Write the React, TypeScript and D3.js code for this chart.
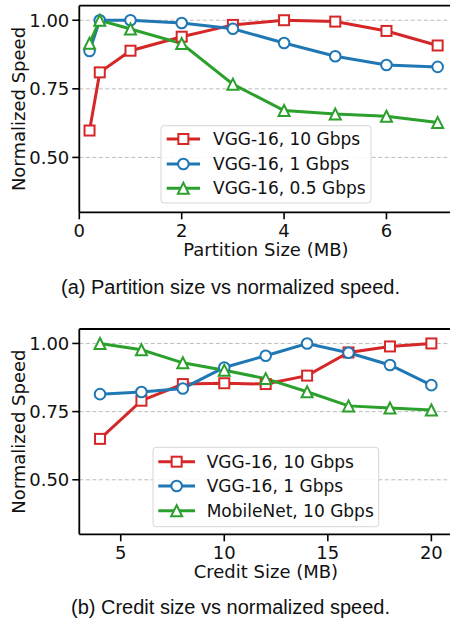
import React from "react";
import * as d3 from "d3";

// ---- Data ----
const partitionSizes = [0.2, 0.4, 1, 2, 3, 4, 5, 6, 7];
const partVgg10 = [0.598, 0.81, 0.889, 0.94, 0.983, 1.0, 0.995, 0.961, 0.908];
const partVgg1 = [0.888, 1.0, 1.0, 0.99, 0.969, 0.917, 0.869, 0.837, 0.83];
const partVgg05 = [0.916, 1.0, 0.968, 0.915, 0.767, 0.671, 0.658, 0.65, 0.627];

const creditSizes = [4, 6, 8, 10, 12, 14, 16, 18, 20];
const credVgg10 = [0.65, 0.79, 0.851, 0.854, 0.851, 0.882, 0.967, 0.989, 1.0];
const credVgg1 = [0.814, 0.822, 0.835, 0.912, 0.955, 1.0, 0.966, 0.921, 0.847];
const credMobile = [1.0, 0.977, 0.929, 0.902, 0.871, 0.823, 0.771, 0.763, 0.756];

const yTicks = [0.5, 0.75, 1.0];
const xTicksA = [0, 2, 4, 6];
const xTicksB = [5, 10, 15, 20];

const seriesA = ["VGG-16, 10 Gbps", "VGG-16, 1 Gbps", "VGG-16, 0.5 Gbps"];
const seriesB = ["VGG-16, 10 Gbps", "VGG-16, 1 Gbps", "MobileNet, 10 Gbps"];
const colors = ["#d62728", "#1f77b4", "#2ca02c"];
const markers = ["square", "circle", "triangle"];

const FONT = "'DejaVu Sans', sans-serif";

function Marker({ type, x, y, color }: { type: string; x: number; y: number; color: string }) {
  if (type === "square")
    return <rect x={x - 5} y={y - 5} width={10} height={10} fill="white" stroke={color} strokeWidth={2} />;
  if (type === "circle") return <circle cx={x} cy={y} r={5.3} fill="white" stroke={color} strokeWidth={2} />;
  const h = 5.5;
  return (
    <path
      d={`M${x},${y - h} L${x + h},${y + h} L${x - h},${y + h} Z`}
      fill="white"
      stroke={color}
      strokeWidth={2}
      strokeLinejoin="miter"
    />
  );
}

type PanelProps = {
  top: number;
  bottom: number;
  xDomain: [number, number];
  xs: number[];
  ys: number[][];
  names: string[];
  xTicks: number[];
  xLabel: string;
  caption: string;
  captionY: number;
  legend: { x: number; y: number; w: number; h: number; lineX0: number; lineX1: number; textX: number; rowY: number[] };
};

function Panel(p: PanelProps) {
  const left = 79.3;
  const right = 452.5;
  const x = d3.scaleLinear().domain(p.xDomain).range([left, right]);
  const y = d3.scaleLinear().domain([0.3, 1.053]).range([p.bottom, p.top]);
  const line = d3
    .line<[number, number]>()
    .x((d) => x(d[0]))
    .y((d) => y(d[1]));
  const cx = (left + right) / 2;
  return (
    <g>
      {yTicks.map((t) => (
        <line key={"g" + t} x1={left} x2={right} y1={y(t)} y2={y(t)} stroke="#bdbdbd" strokeWidth={1} strokeDasharray="4,2.5" />
      ))}
      {p.ys.map((vals, i) => (
        <path
          key={"l" + i}
          d={line(p.xs.map((v, j) => [v, vals[j]]) as [number, number][]) || ""}
          fill="none"
          stroke={colors[i]}
          strokeWidth={3}
        />
      ))}
      {p.ys.map((vals, i) =>
        vals.map((v, j) => <Marker key={"m" + i + "-" + j} type={markers[i]} x={x(p.xs[j])} y={y(v)} color={colors[i]} />)
      )}
      {/* spines */}
      <line x1={left} x2={right} y1={p.top} y2={p.top} stroke="black" strokeWidth={1.8} />
      <line x1={left} x2={right} y1={p.bottom} y2={p.bottom} stroke="black" strokeWidth={1.8} />
      <line x1={left} x2={left} y1={p.top} y2={p.bottom} stroke="black" strokeWidth={1.8} />
      {/* y ticks */}
      {yTicks.map((t) => (
        <g key={"yt" + t}>
          <line x1={left - 7} x2={left} y1={y(t)} y2={y(t)} stroke="black" strokeWidth={1.6} />
          <text x={left - 10} y={y(t)} dy="0.36em" textAnchor="end" fontSize={18} fontFamily={FONT} fill="#111">
            {t.toFixed(2)}
          </text>
        </g>
      ))}
      {/* x ticks */}
      {p.xTicks.map((t) => (
        <g key={"xt" + t}>
          <line x1={x(t)} x2={x(t)} y1={p.bottom} y2={p.bottom + 7} stroke="black" strokeWidth={1.6} />
          <text x={x(t)} y={p.bottom + 25} textAnchor="middle" fontSize={18} fontFamily={FONT} fill="#111">
            {t}
          </text>
        </g>
      ))}
      <text x={cx} y={p.bottom + 44} textAnchor="middle" fontSize={18} fontFamily={FONT} fill="#111">
        {p.xLabel}
      </text>
      <text
        transform={`translate(25,${(p.top + p.bottom) / 2}) rotate(-90)`}
        textAnchor="middle"
        fontSize={18}
        fontFamily={FONT}
        fill="#111"
      >
        Normalized Speed
      </text>
      {/* legend */}
      <rect x={p.legend.x} y={p.legend.y} width={p.legend.w} height={p.legend.h} rx={3} fill="white" fillOpacity={0.85} stroke="#d6d6d6" strokeWidth={1} />
      {p.names.map((n, i) => {
        const ry = p.legend.rowY[i];
        const mx = (p.legend.lineX0 + p.legend.lineX1) / 2;
        return (
          <g key={"lg" + i}>
            <line x1={p.legend.lineX0} x2={p.legend.lineX1} y1={ry} y2={ry} stroke={colors[i]} strokeWidth={3} />
            <Marker type={markers[i]} x={mx} y={ry} color={colors[i]} />
            <text x={p.legend.textX} y={ry} dy="0.36em" fontSize={17} fontFamily={FONT} fill="#111">
              {n}
            </text>
          </g>
        );
      })}
      <text
        x={230.5}
        y={p.captionY}
        textAnchor="middle"
        fontSize={20}
        fontFamily="'Liberation Sans', Arial, sans-serif"
        fill="#111"
      >
        {p.caption}
      </text>
    </g>
  );
}

export default function App() {
  return (
    <svg
      width={450}
      height={621}
      style={{ position: "absolute", left: 0, top: 0, background: "white" }}
      overflow="hidden"
    >
      <rect width={450} height={621} fill="white" />
      <Panel
        top={5.7}
        bottom={212.3}
        xDomain={[0, 7.29]}
        xs={partitionSizes}
        ys={[partVgg10, partVgg1, partVgg05]}
        names={seriesA}
        xTicks={xTicksA}
        xLabel="Partition Size (MB)"
        caption="(a) Partition size vs normalized speed."
        captionY={293.5}
        legend={{ x: 161, y: 125.7, w: 210, h: 77.3, lineX0: 166.7, lineX1: 200, textX: 213, rowY: [139, 164, 188.3] }}
      />
      <Panel
        top={329}
        bottom={534.3}
        xDomain={[3, 21.02]}
        xs={creditSizes}
        ys={[credVgg10, credVgg1, credMobile]}
        names={seriesB}
        xTicks={xTicksB}
        xLabel="Credit Size (MB)"
        caption="(b) Credit size vs normalized speed."
        captionY={613.5}
        legend={{ x: 153, y: 447.3, w: 225.7, h: 79.4, lineX0: 158.3, lineX1: 195, textX: 206.7, rowY: [461.7, 486, 510.7] }}
      />
    </svg>
  );
}
